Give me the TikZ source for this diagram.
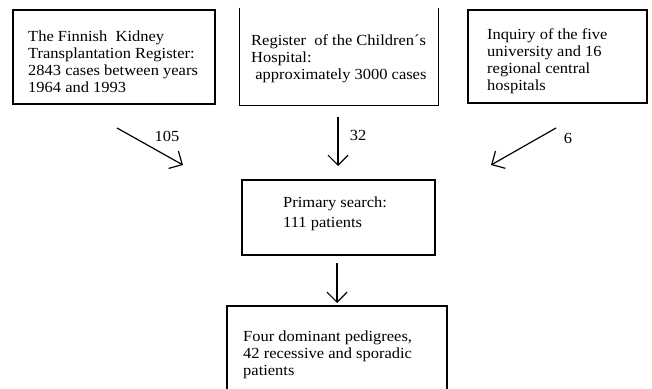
\documentclass[tikz,border=0pt]{standalone}
\usepackage{fontspec}
\setmainfont[FakeStretch=1.07]{Liberation Serif}
\usetikzlibrary{arrows.meta}
\begin{document}
\begin{tikzpicture}[x=1pt,y=-1pt,
  box/.style={draw,line width=1.1pt,inner sep=0pt},
  txt/.style={anchor=north west,inner sep=0pt,align=left,font=\fontsize{15.4}{17}\selectfont},
  lbl/.style={inner sep=0pt,font=\fontsize{15.4}{17}\selectfont},
  arr/.style={line width=1.2pt,-{Straight Barb[length=10pt,width=20pt,line width=1.2pt]}}]
\useasboundingbox (0,0) rectangle (652,388);
% boxes
\node[box,minimum width=202pt,minimum height=94pt] (b1) at (114,57) {};
\node[inner sep=0pt,minimum width=199pt,minimum height=97pt] (b2) at (339,56.5) {};
\draw[line width=1.1pt] (b2.north west) -- (b2.south west) -- (b2.south east) -- (b2.north east);
\node[box,minimum width=179pt,minimum height=93pt] (b3) at (557.5,56.5) {};
\node[box,minimum width=193pt,minimum height=75pt] (b4) at (338.5,217.5) {};
\node[box,minimum width=220pt,minimum height=100pt] (b5) at (337,356) {};
% texts
\node[txt] (t1) at (28,30.5) {The Finnish\ \ Kidney\\Transplantation Register:\\2843 cases between years\\1964 and 1993};
\node[txt] (t2) at (251,34.5) {Register\ \ of the Children´s\\Hospital:\\\ approximately 3000 cases};
\node[txt] (t3) at (487,28) {Inquiry of the five\\university and 16\\regional central\\hospitals};
\node[txt,font=\fontsize{15.4}{20}\selectfont] (t4) at (283,197) {Primary search:\\111 patients};
\node[txt] (t5) at (243,331) {Four dominant pedigrees,\\42 recessive and sporadic\\patients};
% connectors
\coordinate (a1s) at (117,128); \coordinate (a1e) at (183,165);
\coordinate (a2s) at (338,117); \coordinate (a2e) at (338,166);
\coordinate (a3s) at (556,128); \coordinate (a3e) at (491,165);
\coordinate (a4s) at (337,263); \coordinate (a4e) at (337,303);
\draw[arr] (a1s) -- (a1e);
\draw[arr] (a2s) -- (a2e);
\draw[arr] (a3s) -- (a3e);
\draw[arr] (a4s) -- (a4e);
\node[lbl] (l1) at (167,136) {105};
\node[lbl] (l2) at (358,135) {32};
\node[lbl] (l3) at (568,138) {6};
\end{tikzpicture}
\end{document}
